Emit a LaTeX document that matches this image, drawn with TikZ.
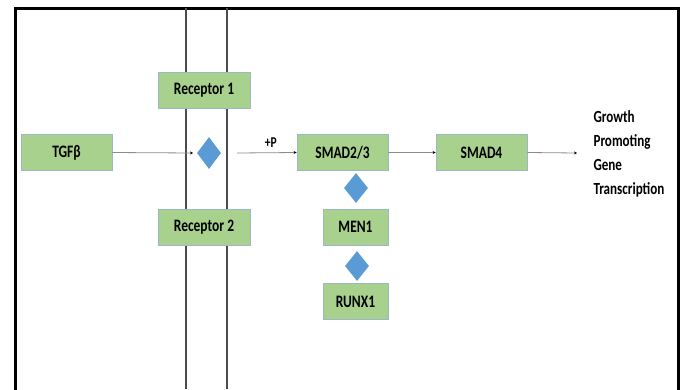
\documentclass[tikz,border=0pt]{standalone}
\usepackage{fontspec}
\setmainfont{Carlito}
\usetikzlibrary{shapes.geometric,arrows.meta}
\definecolor{boxfill}{HTML}{A9D18E}
\definecolor{boxline}{HTML}{9CB8C8}
\definecolor{diafill}{HTML}{5B9BD5}
\definecolor{connline}{HTML}{8C8C8C}
\newcommand{\sqz}[1]{\scalebox{0.77}[1]{#1}}
\tikzset{
  gbox/.style={rectangle, draw=boxline, line width=0.8pt, fill=boxfill, inner sep=0pt,
    minimum height=36pt, font=\fontsize{17.5}{20}\selectfont\bfseries},
  dia/.style={diamond, fill=diafill, draw=none, inner sep=0pt},
  conn/.style={draw=connline, line width=0.8pt, -{Stealth[length=3pt,width=3pt,color=black]}},
  memb/.style={draw=black!70, line width=1.6pt},
}
\begin{document}
\begin{tikzpicture}[x=1pt,y=-1pt]
\useasboundingbox (0,0) rectangle (682,389);
% frame
\draw[line width=3pt, black] (15,392) -- (15,8) -- (678,8) -- (678,392);
% membrane lines
\draw[memb] (186,8) -- (186,389);
\draw[memb] (227,8) -- (227,389);
% nodes
\node[gbox, minimum width=91pt] (tgf) at (66.5,152.5) {\sqz{TGFβ}};
\node[gbox, minimum width=92pt] (r1) at (204,90) {\sqz{Receptor 1}};
\node[gbox, minimum width=92pt] (r2) at (204,227) {\sqz{Receptor 2}};
\node[gbox, minimum width=91pt] (smad23) at (342.5,152.5) {\sqz{SMAD2/3}};
\node[gbox, minimum width=91pt] (smad4) at (481.5,152.5) {\sqz{SMAD4}};
\node[gbox, minimum width=65pt] (men1) at (355.5,227) {\sqz{MEN1}};
\node[gbox, minimum width=65pt] (runx1) at (355.5,301.5) {\sqz{RUNX1}};
\node[dia, minimum width=24pt, minimum height=32pt] (d1) at (209,153) {};
\node[dia, minimum width=24pt, minimum height=30pt] (d2) at (356,188) {};
\node[dia, minimum width=24pt, minimum height=30pt] (d3) at (357,266) {};
\node[anchor=west, align=left, font=\fontsize{17}{24}\selectfont\bfseries] (out) at (590,153.5)
  {\sqz{Growth}\\\sqz{Promoting}\\\sqz{Gene}\\\sqz{Transcription}};
\coordinate (c1) at (193,153);
\coordinate (c2) at (237,153);
\coordinate (c3) at (577,153);
% connectors
\draw[conn] (tgf.east) -- (c1);
\draw[conn] (c2) -- node[above, font=\fontsize{15}{17}\selectfont\bfseries, xshift=4pt, yshift=2pt] {\sqz{+P}} (smad23.west);
\draw[conn] (smad23.east) -- (smad4.west);
\draw[conn] (smad4.east) -- (c3);
\end{tikzpicture}
\end{document}
